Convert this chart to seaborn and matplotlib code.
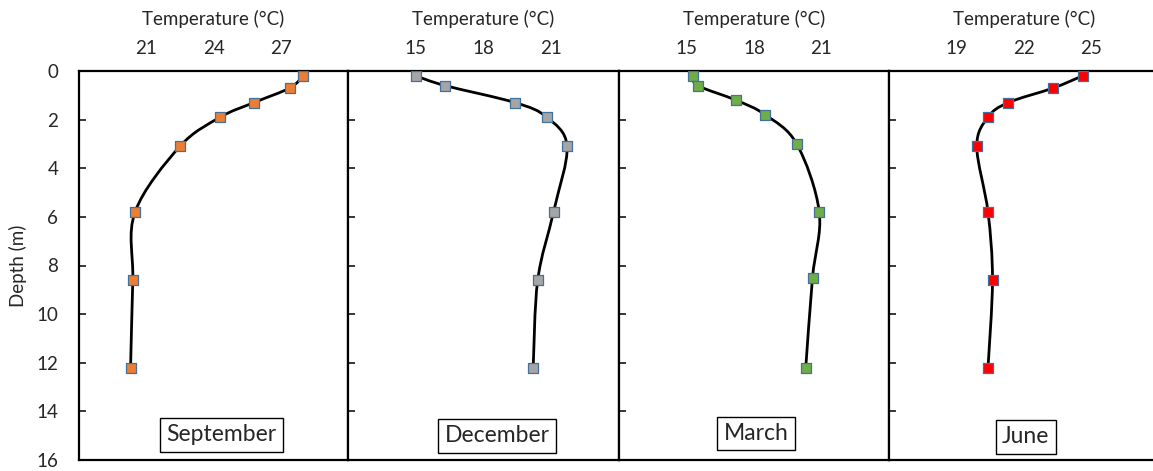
import numpy as np
import pandas as pd
import matplotlib
matplotlib.use("Agg")
import matplotlib.pyplot as plt
from matplotlib.path import Path
from matplotlib.patches import PathPatch
import seaborn as sns

# ---- data ----
months = ["September", "December", "March", "June"]
depth_sep = [0.2, 0.7, 1.3, 1.9, 3.1, 5.8, 8.6, 12.2]
temp_sep = [28.0, 27.4, 25.8, 24.3, 22.5, 20.5, 20.4, 20.3]
depth_dec = [0.2, 0.6, 1.3, 1.9, 3.1, 5.8, 8.6, 12.2]
temp_dec = [15.0, 16.3, 19.4, 20.8, 21.7, 21.1, 20.4, 20.2]
depth_mar = [0.2, 0.6, 1.2, 1.8, 3.0, 5.8, 8.5, 12.2]
temp_mar = [15.3, 15.5, 17.2, 18.5, 19.9, 20.9, 20.6, 20.3]
depth_jun = [0.2, 0.7, 1.3, 1.9, 3.1, 5.8, 8.6, 12.2]
temp_jun = [24.6, 23.3, 21.3, 20.4, 19.9, 20.4, 20.6, 20.4]
xticks_sep = [21, 24, 27]
xticks_dec = [15, 18, 21]
xticks_mar = [15, 18, 21]
xticks_jun = [19, 22, 25]
xlims = [(18, 30), (12, 24), (12, 24), (16, 28)]
yticks = [0, 2, 4, 6, 8, 10, 12, 14, 16]

colors = ["#ED7D31", "#A5A5A5", "#70AD47", "#FF0000"]
label_pos = [(0.53, 0.065), (0.55, 0.062), (0.507, 0.068), (0.507, 0.06)]

sns.set_style("white")
plt.rcParams["font.family"] = ["Lato", "DejaVu Sans"]

W, H = 1153, 471
fig = plt.figure(figsize=(W / 100, H / 100), dpi=100)

lefts = [79, 348, 619, 889]
widths = [269, 271, 270, 270]
top, bottom = 71, 460

temps = [temp_sep, temp_dec, temp_mar, temp_jun]
depths = [depth_sep, depth_dec, depth_mar, depth_jun]
xticks_all = [xticks_sep, xticks_dec, xticks_mar, xticks_jun]

FS = 13.5


def smooth_path(x, y):
    """Excel-style smoothed line drawn as cubic Bezier segments through the points."""
    pts = np.column_stack([x, y]).astype(float)
    n = len(pts)
    verts = [pts[0]]
    codes = [Path.MOVETO]
    for i in range(n - 1):
        p0 = pts[i - 1] if i > 0 else pts[i]
        p1 = pts[i]
        p2 = pts[i + 1]
        p3 = pts[i + 2] if i + 2 < n else pts[i + 1]
        c1 = p1 + (p2 - p0) / 6.0
        c2 = p2 - (p3 - p1) / 6.0
        verts += [c1, c2, p2]
        codes += [Path.CURVE4] * 3
    return Path(verts, codes)


for i in range(4):
    ax = fig.add_axes([lefts[i] / W, (H - bottom) / H, widths[i] / W, (bottom - top) / H])
    df = pd.DataFrame({"Temperature": temps[i], "Depth": depths[i]})
    patch = PathPatch(smooth_path(df["Temperature"], df["Depth"]), fc="none",
                      ec="black", lw=2.0, zorder=2)
    ax.add_patch(patch)
    sns.scatterplot(data=df, x="Temperature", y="Depth", ax=ax, marker="s", s=55,
                    color=colors[i], edgecolor="#41719C", linewidth=0.9, zorder=3)
    ax.set_xlim(*xlims[i])
    ax.set_ylim(16, 0)
    ax.xaxis.set_label_position("top")
    ax.xaxis.tick_top()
    ax.set_xticks(xticks_all[i])
    ax.tick_params(axis="x", length=0, pad=10, labelsize=FS)
    ax.set_xlabel("Temperature (°C)", fontsize=FS, labelpad=11)
    ax.set_yticks(yticks)
    ax.tick_params(axis="y", direction="in", length=5, width=1.3, left=True, right=False,
                   pad=15, labelsize=FS)
    if i == 0:
        ax.set_ylabel("Depth (m)", fontsize=FS, labelpad=7)
    else:
        ax.set_ylabel("")
        ax.set_yticklabels([])
    for s in ["top", "left", "right", "bottom"]:
        ax.spines[s].set_color("black")
        ax.spines[s].set_linewidth(1.6)
    ax.grid(False)
    ax.text(label_pos[i][0], label_pos[i][1], months[i], transform=ax.transAxes,
            ha="center", va="center", fontsize=16.5,
            bbox=dict(boxstyle="square,pad=0.28", fc="white", ec="black", lw=1.0))

fig.savefig("out.png", dpi=100)
